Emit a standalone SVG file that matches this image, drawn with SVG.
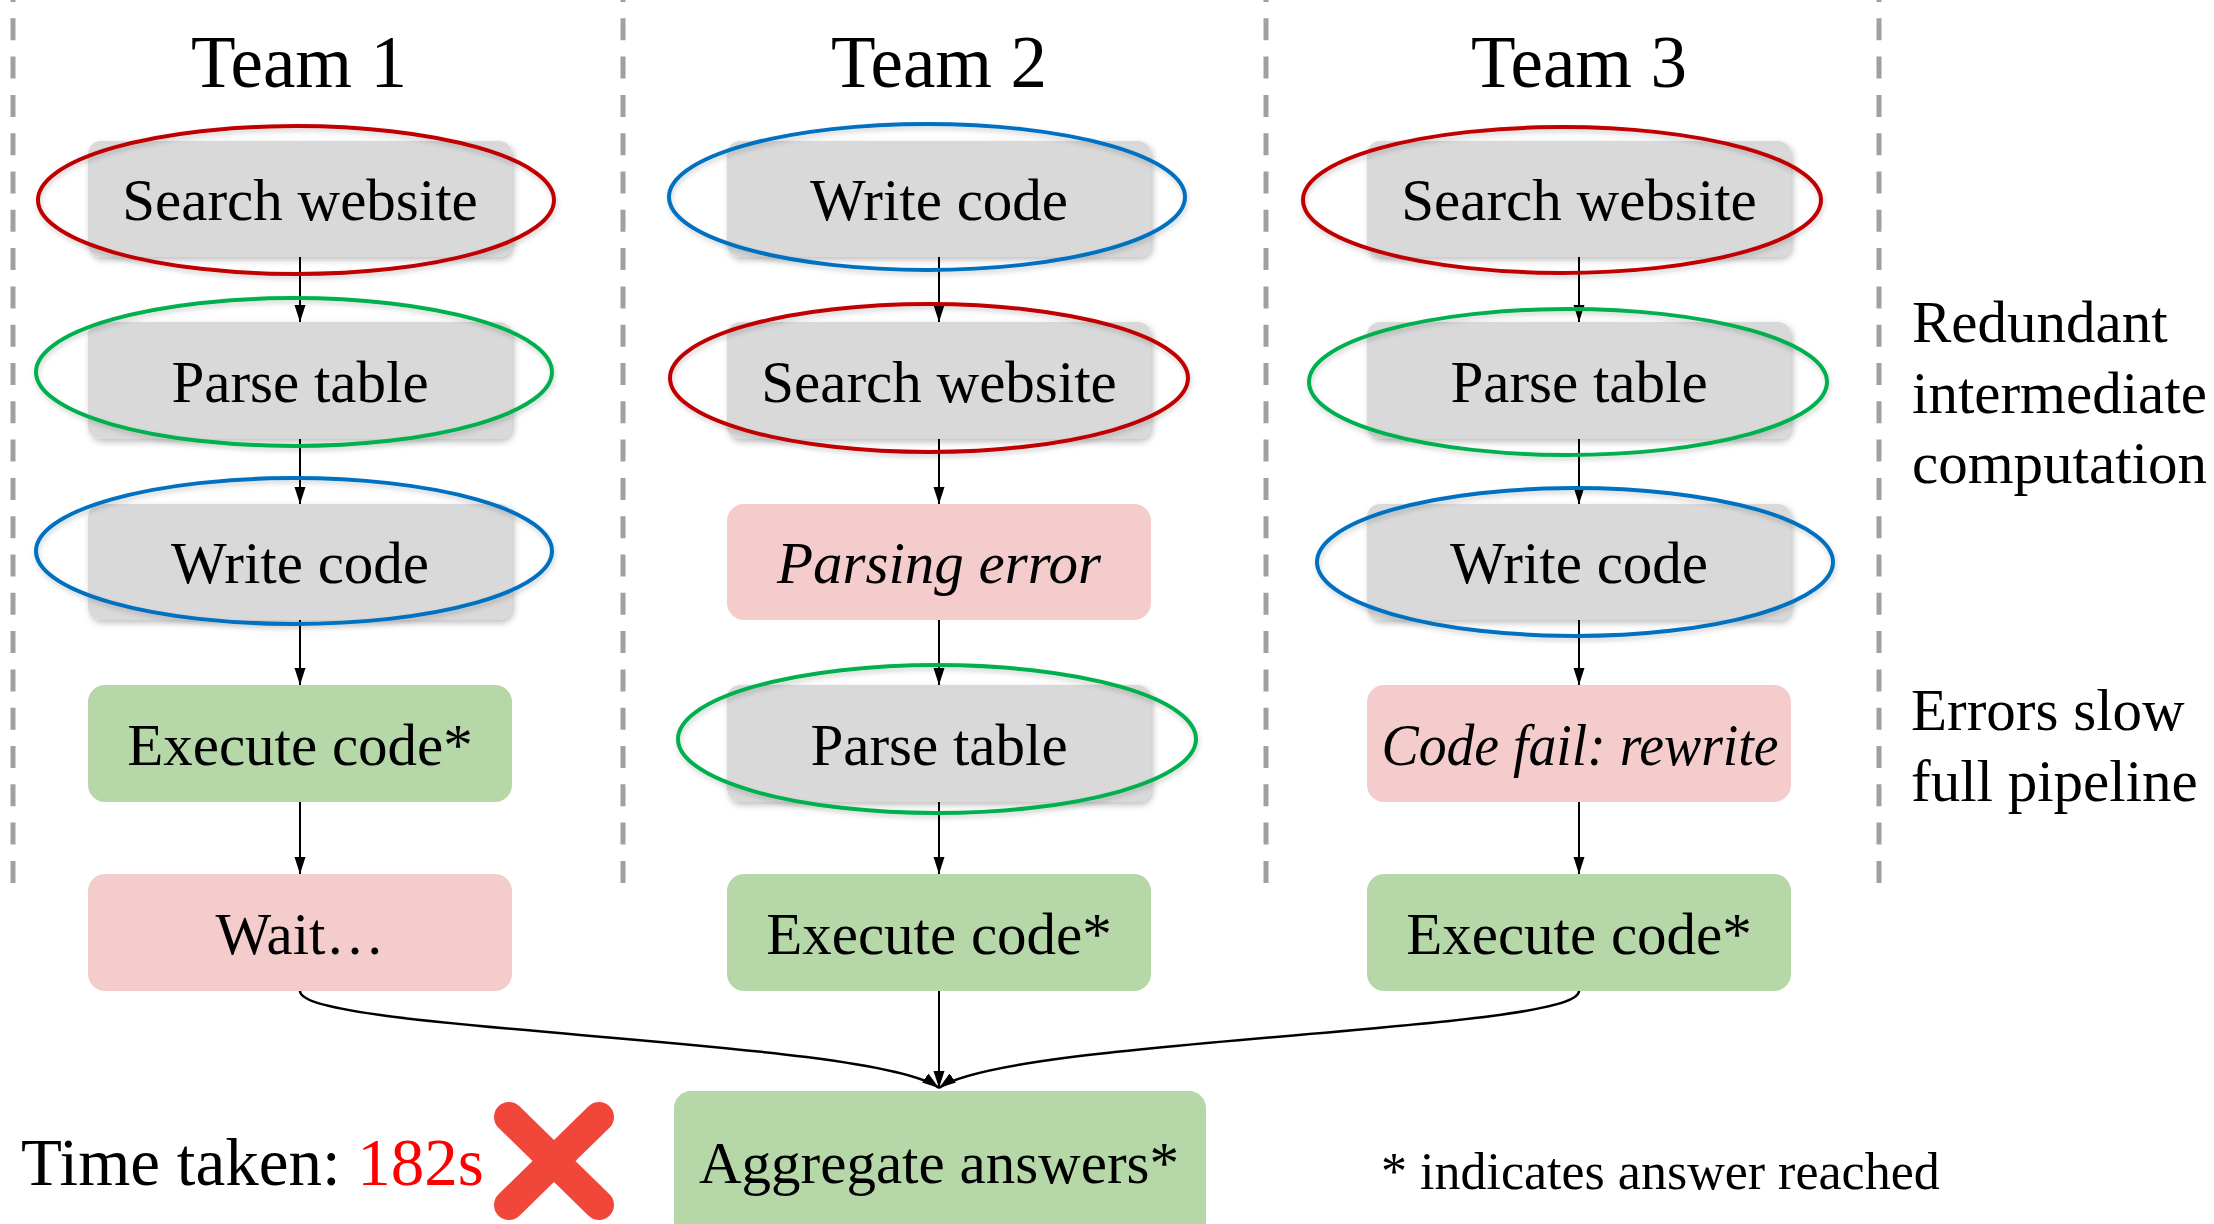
<svg xmlns="http://www.w3.org/2000/svg" width="2214" height="1224" viewBox="0 0 2214 1224">
<defs>
<style>
text{font-family:"Liberation Serif","Times New Roman",serif;fill:#000;}
.team{font-size:73px;text-anchor:middle;}
.lbl{font-size:59px;text-anchor:middle;}
.it{font-style:italic;}
.side{font-size:59px;}
.gray{fill:#D9D9D9;filter:url(#sh);}
.pink{fill:#F4CCCC;}
.green{fill:#B6D7A8;}
.ell{fill:none;stroke-width:4;filter:url(#sh2);}
.r{stroke:#C00000;}
.g{stroke:#00B050;}
.b{stroke:#0070C0;}
.dash{stroke:#A0A0A0;stroke-width:5;stroke-dasharray:22 16.3;stroke-dashoffset:20;fill:none;}
.arr{stroke:#000;stroke-width:2;fill:none;marker-end:url(#ah);}
.cur{stroke:#000;stroke-width:2.5;fill:none;marker-end:url(#ah);}
</style>
<filter id="sh" x="-10%" y="-20%" width="120%" height="150%">
<feDropShadow dx="2" dy="3" stdDeviation="3" flood-color="#000" flood-opacity="0.25"/>
</filter>
<filter id="sh2" x="-10%" y="-20%" width="120%" height="150%">
<feDropShadow dx="1" dy="3" stdDeviation="2.5" flood-color="#000" flood-opacity="0.18"/>
</filter>
<marker id="ah" markerUnits="userSpaceOnUse" markerWidth="18" markerHeight="12" refX="17" refY="5.5" orient="auto">
<path d="M0,0 L17,5.5 L0,11 z" fill="#000"/>
</marker>
</defs>
<rect width="2214" height="1224" fill="#fff"/>

<g id="separators">
<line class="dash" x1="13" y1="0" x2="13" y2="890"/>
<line class="dash" x1="623" y1="0" x2="623" y2="890"/>
<line class="dash" x1="1266" y1="0" x2="1266" y2="890"/>
<line class="dash" x1="1879" y1="0" x2="1879" y2="890"/>
</g>

<g id="team-labels">
<text class="team" x="299" y="87">Team 1</text>
<text class="team" x="939" y="87">Team 2</text>
<text class="team" x="1579" y="87">Team 3</text>
</g>

<g id="connectors">
<line class="arr" x1="300" y1="257" x2="300" y2="322"/>
<line class="arr" x1="300" y1="439" x2="300" y2="504"/>
<line class="arr" x1="300" y1="620" x2="300" y2="685"/>
<line class="arr" x1="300" y1="802" x2="300" y2="874"/>
<line class="arr" x1="939" y1="257" x2="939" y2="322"/>
<line class="arr" x1="939" y1="439" x2="939" y2="504"/>
<line class="arr" x1="939" y1="620" x2="939" y2="685"/>
<line class="arr" x1="939" y1="802" x2="939" y2="874"/>
<line class="arr" x1="1579" y1="257" x2="1579" y2="322"/>
<line class="arr" x1="1579" y1="439" x2="1579" y2="504"/>
<line class="arr" x1="1579" y1="620" x2="1579" y2="685"/>
<line class="arr" x1="1579" y1="802" x2="1579" y2="874"/>
<path class="cur" d="M300,991 C300,1032 870,1038 939,1088"/>
<line class="arr" x1="939" y1="991" x2="939" y2="1088"/>
<path class="cur" d="M1579,991 C1579,1032 1008,1038 939,1088"/>
</g>

<g id="t1-search"><rect class="gray" x="88" y="141" width="424" height="116" rx="13"/><text class="lbl" x="300" y="220">Search website</text></g>
<g id="t1-parse"><rect class="gray" x="88" y="322" width="424" height="117" rx="13"/><text class="lbl" x="300" y="402">Parse table</text></g>
<g id="t1-write"><rect class="gray" x="88" y="504" width="424" height="116" rx="13"/><text class="lbl" x="300" y="583">Write code</text></g>
<g id="t1-exec"><rect class="green" x="88" y="685" width="424" height="117" rx="17"/><text class="lbl" x="300" y="765">Execute code*</text></g>
<g id="t1-wait"><rect class="pink" x="88" y="874" width="424" height="117" rx="17"/><text class="lbl" x="300" y="954">Wait…</text></g>

<g id="t2-write"><rect class="gray" x="727" y="141" width="424" height="116" rx="13"/><text class="lbl" x="939" y="220">Write code</text></g>
<g id="t2-search"><rect class="gray" x="727" y="322" width="424" height="117" rx="13"/><text class="lbl" x="939" y="402">Search website</text></g>
<g id="t2-error"><rect class="pink" x="727" y="504" width="424" height="116" rx="17"/><text class="lbl it" x="939" y="583">Parsing error</text></g>
<g id="t2-parse"><rect class="gray" x="727" y="685" width="424" height="117" rx="13"/><text class="lbl" x="939" y="765">Parse table</text></g>
<g id="t2-exec"><rect class="green" x="727" y="874" width="424" height="117" rx="17"/><text class="lbl" x="939" y="954">Execute code*</text></g>

<g id="t3-search"><rect class="gray" x="1367" y="141" width="424" height="116" rx="13"/><text class="lbl" x="1579" y="220">Search website</text></g>
<g id="t3-parse"><rect class="gray" x="1367" y="322" width="424" height="117" rx="13"/><text class="lbl" x="1579" y="402">Parse table</text></g>
<g id="t3-write"><rect class="gray" x="1367" y="504" width="424" height="116" rx="13"/><text class="lbl" x="1579" y="583">Write code</text></g>
<g id="t3-fail"><rect class="pink" x="1367" y="685" width="424" height="117" rx="17"/><text class="lbl it" x="1580" y="765" textLength="397" lengthAdjust="spacingAndGlyphs">Code fail: rewrite</text></g>
<g id="t3-exec"><rect class="green" x="1367" y="874" width="424" height="117" rx="17"/><text class="lbl" x="1579" y="954">Execute code*</text></g>

<g id="aggregate"><rect class="green" x="674" y="1091" width="532" height="160" rx="17"/><text class="lbl" x="939" y="1183">Aggregate answers*</text></g>

<g id="highlights">
<ellipse class="ell r" cx="296" cy="200" rx="258" ry="74"/>
<ellipse class="ell g" cx="294" cy="372" rx="258" ry="74"/>
<ellipse class="ell b" cx="294" cy="551" rx="258" ry="73"/>
<ellipse class="ell b" cx="927" cy="197" rx="258" ry="73"/>
<ellipse class="ell r" cx="929" cy="378" rx="259" ry="74"/>
<ellipse class="ell g" cx="937" cy="739" rx="259" ry="74"/>
<ellipse class="ell r" cx="1562" cy="200" rx="259" ry="73"/>
<ellipse class="ell g" cx="1568" cy="382" rx="259" ry="73"/>
<ellipse class="ell b" cx="1575" cy="562" rx="258" ry="74"/>
</g>

<g id="side-notes">
<text class="side" x="1912" y="342">Redundant</text>
<text class="side" x="1912" y="413">intermediate</text>
<text class="side" x="1912" y="483">computation</text>
<text class="side" x="1911" y="730">Errors slow</text>
<text class="side" x="1911" y="801">full pipeline</text>
</g>

<g id="time">
<text x="21" y="1185" style="font-size:67px">Time taken: <tspan fill="#FF0000">182s</tspan></text>
<g stroke="#F0473A" stroke-width="30" stroke-linecap="round">
<line x1="509" y1="1117" x2="599" y2="1205"/>
<line x1="599" y1="1117" x2="509" y2="1205"/>
</g>
</g>

<g id="legend">
<text x="1381" y="1189" style="font-size:52px">* indicates answer reached</text>
</g>
</svg>
